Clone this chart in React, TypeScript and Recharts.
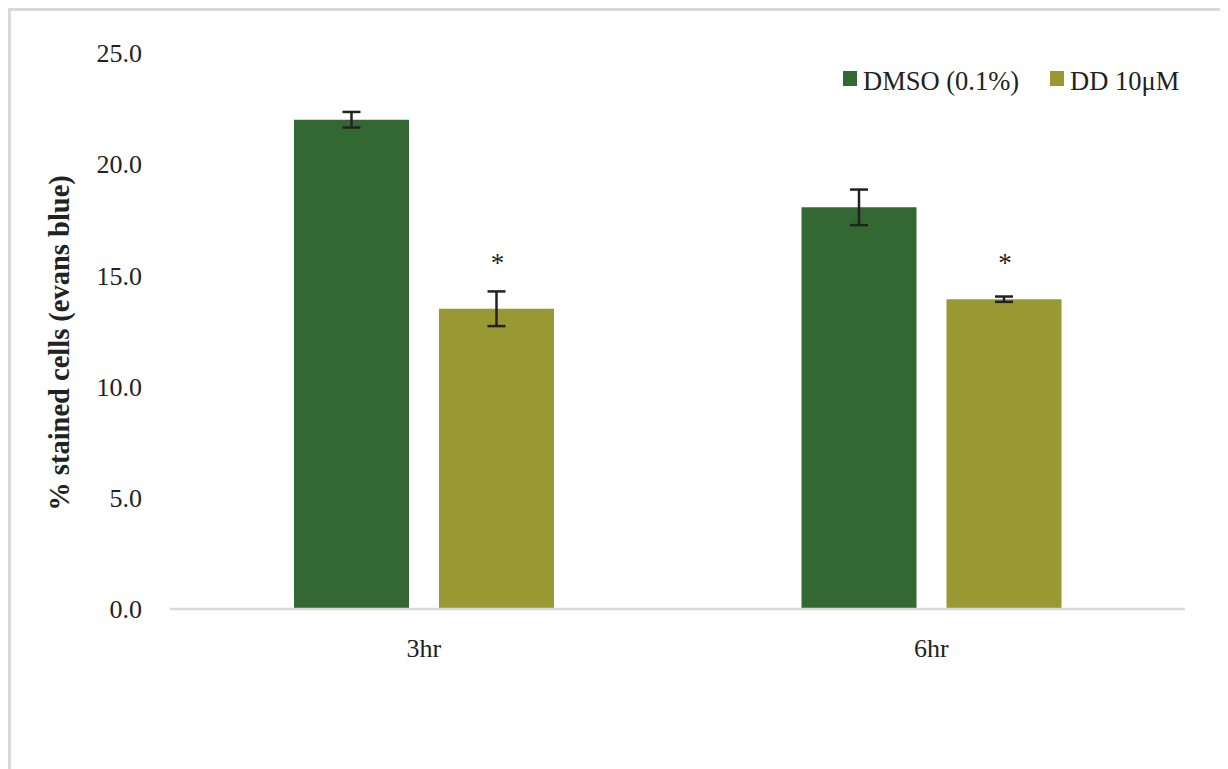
import React from "react";
import { BarChart, Bar, XAxis, YAxis, ErrorBar, LabelList, Legend } from "recharts";

// mean % of Evans-blue stained cells per timepoint, with SE
const timepoints = ["3hr", "6hr"];
const dmsoMean = [22.0, 18.06];
const dmsoErr = [0.35, 0.8];
const ddMean = [13.5, 13.93];
const ddErr = [0.78, 0.12];
// height at which the significance asterisk sits
const sigMarkAt = [15.8, 15.8];
const yTicks = [0, 5, 10, 15, 20, 25];

const DMSO_COLOR = "#346833";
const DD_COLOR = "#999934";
const FONT = "'Liberation Serif', 'Times New Roman', serif";

const chartData = timepoints.map((t, i) => ({
  time: t,
  dmso: dmsoMean[i],
  dmsoErr: dmsoErr[i],
  dd: ddMean[i],
  ddErr: ddErr[i],
  sig: sigMarkAt[i],
}));

const legendItems = [
  { label: "DMSO (0.1%)", color: DMSO_COLOR },
  { label: "DD 10μM", color: DD_COLOR },
];

const renderLegend = () => (
  <div style={{ display: "flex", fontFamily: FONT, fontSize: 26.5, lineHeight: 1, color: "#222" }}>
    {legendItems.map((item, i) => (
      <div key={item.label} style={{ display: "flex", alignItems: "flex-start", marginLeft: i === 0 ? 0 : 31 }}>
        <span style={{ display: "inline-block", width: 14, height: 15, background: item.color, marginTop: 3, marginRight: 6 }} />
        <span>{item.label}</span>
      </div>
    ))}
  </div>
);

// asterisk placed at a data height, using the bar's own pixel scale
const renderStar = (props: any) => {
  const { x, y, width, height, value, index } = props;
  const ppu = height / ddMean[index];
  const base = y + height;
  const cy = base - value * ppu;
  return (
    <text x={x + width / 2 + 1} y={cy + 14} textAnchor="middle" fontFamily={FONT} fontSize={27} fill="#222">
      *
    </text>
  );
};

const renderYLabel = (props: any) => {
  const { viewBox } = props;
  const cx = viewBox.x + 48;
  const cy = viewBox.y + viewBox.height / 2 + 12;
  return (
    <text
      x={cx}
      y={cy}
      transform={`rotate(-90, ${cx}, ${cy})`}
      textAnchor="middle"
      dominantBaseline="central"
      fontFamily={FONT}
      fontWeight="bold"
      fontSize={28.5}
      fill="#222"
    >
      % stained cells (evans blue)
    </text>
  );
};

export default function App() {
  return (
    <div
      style={{
        width: 1217,
        height: 770,
        boxSizing: "border-box",
        border: "3px solid #d9d9d9",
        background: "#fff",
      }}
    >
      <BarChart
        width={1211}
        height={764}
        data={chartData}
        margin={{ top: 42, right: 37, bottom: 106, left: 0 }}
        barSize={115}
        barGap={30}
      >
        <XAxis
          dataKey="time"
          height={60}
          axisLine={{ stroke: "#d9d9d9", strokeWidth: 2.5 }}
          tickLine={false}
          tickSize={0}
          tickMargin={30}
          tick={{ fontFamily: FONT, fontSize: 26, fill: "#222" }}
        />
        <YAxis
          width={159}
          domain={[0, 25]}
          ticks={yTicks}
          axisLine={false}
          tickLine={false}
          tickSize={0}
          tickMargin={28}
          tickFormatter={(v: number) => v.toFixed(1)}
          tick={{ fontFamily: FONT, fontSize: 26, fill: "#222" }}
          label={{ content: renderYLabel }}
        />
        <Legend
          content={renderLegend}
          layout="horizontal"
          verticalAlign="middle"
          align="center"
          wrapperStyle={{ top: 57, left: 832, width: "auto" }}
        />
        <Bar dataKey="dmso" name="DMSO (0.1%)" fill={DMSO_COLOR} isAnimationActive={false}>
          <ErrorBar dataKey="dmsoErr" width={9} strokeWidth={2.5} stroke="#222" direction="y" />
        </Bar>
        <Bar dataKey="dd" name="DD 10μM" fill={DD_COLOR} isAnimationActive={false}>
          <ErrorBar dataKey="ddErr" width={9} strokeWidth={2.5} stroke="#222" direction="y" />
          <LabelList dataKey="sig" content={renderStar} />
        </Bar>
      </BarChart>
    </div>
  );
}
